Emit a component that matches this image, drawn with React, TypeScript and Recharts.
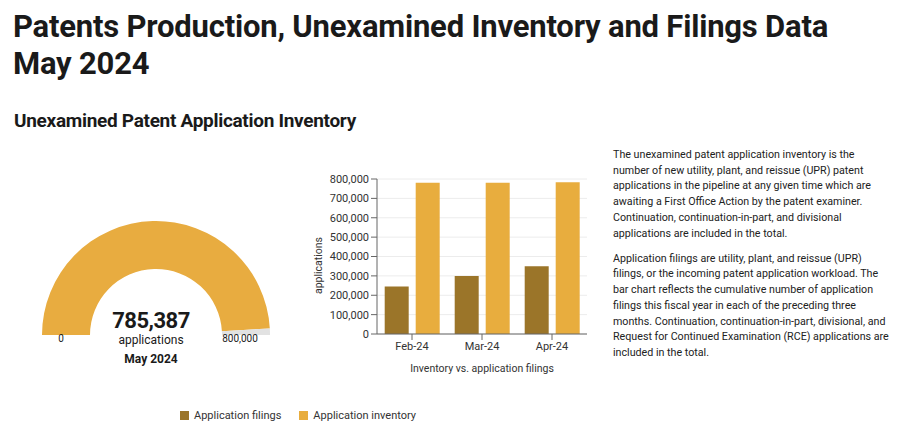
import React from 'react';
import { PieChart, Pie, Cell, BarChart, Bar, XAxis, YAxis, CartesianGrid, Label } from 'recharts';

// bar chart data
const months = ['Feb-24', 'Mar-24', 'Apr-24'];
const filings = [245000, 300000, 350000];
const inventory = [781000, 781000, 783000];
const yTicks = [0, 100000, 200000, 300000, 400000, 500000, 600000, 700000, 800000];

// gauge data
const gaugeValue = 785387;
const gaugeMax = 800000;
const gaugeTicks = [0, 800000];

const series = [
  { key: 'filings', name: 'Application filings', color: '#9B7529' },
  { key: 'inventory', name: 'Application inventory', color: '#E8AD3E' },
];

const para1 = [
  'The unexamined patent application inventory is the',
  'number of new utility, plant, and reissue (UPR) patent',
  'applications in the pipeline at any given time which are',
  'awaiting a First Office Action by the patent examiner.',
  'Continuation, continuation-in-part, and divisional',
  'applications are included in the total.',
];
const para2 = [
  'Application filings are utility, plant, and reissue (UPR)',
  'filings, or the incoming patent application workload. The',
  'bar chart reflects the cumulative number of application',
  'filings this fiscal year in each of the preceding three',
  'months. Continuation, continuation-in-part, divisional, and',
  'Request for Continued Examination (RCE) applications are',
  'included in the total.',
];

const fmt = (v: number) => v.toLocaleString('en-US');

const barData = months.map((m, i) => ({ month: m, filings: filings[i], inventory: inventory[i] }));
const gaugeData = [
  { name: 'inventory', value: gaugeValue },
  { name: 'rest', value: gaugeMax - gaugeValue },
];

const sans = 'Roboto, "Liberation Sans", sans-serif';

const App: React.FC = () => {
  return (
    <div style={{ position: 'fixed', left: 0, top: 0, width: 900, height: 432, background: '#fff', overflow: 'hidden', fontFamily: sans, color: '#1a1a1a' }}>
      <div style={{ position: 'absolute', left: 13, top: 8, fontSize: 31, fontWeight: 700, lineHeight: '37px', letterSpacing: -0.2, whiteSpace: 'nowrap' }}>
        Patents Production, Unexamined Inventory and Filings Data
        <br />
        May 2024
      </div>
      <div style={{ position: 'absolute', left: 14, top: 109, fontSize: 19, fontWeight: 700, letterSpacing: -0.3, whiteSpace: 'nowrap' }}>
        Unexamined Patent Application Inventory
      </div>

      {/* gauge */}
      <div style={{ position: 'absolute', left: 0, top: 100 }}>
        <PieChart width={300} height={240}>
          <Pie
            data={gaugeData}
            dataKey="value"
            cx={151}
            cy={230}
            startAngle={180}
            endAngle={0}
            innerRadius={66}
            outerRadius={114}
            stroke="none"
            isAnimationActive={false}
          >
            <Cell fill="#E8AC40" />
            <Cell fill="#E2E2E2" />
          </Pie>
        </PieChart>
      </div>
      <div style={{ position: 'absolute', left: 41, top: 333, width: 40, textAlign: 'center', fontSize: 10 }}>{fmt(gaugeTicks[0])}</div>
      <div style={{ position: 'absolute', left: 210, top: 333, width: 60, textAlign: 'center', fontSize: 10 }}>{fmt(gaugeTicks[1])}</div>
      <div style={{ position: 'absolute', left: 91, top: 308, width: 120, textAlign: 'center', fontSize: 22, fontWeight: 700, letterSpacing: -0.5 }}>{fmt(gaugeValue)}</div>
      <div style={{ position: 'absolute', left: 91, top: 333, width: 120, textAlign: 'center', fontSize: 12 }}>applications</div>
      <div style={{ position: 'absolute', left: 91, top: 352, width: 120, textAlign: 'center', fontSize: 12, fontWeight: 700 }}>May 2024</div>

      {/* bar chart */}
      <div style={{ position: 'absolute', left: 300, top: 165 }}>
        <BarChart width={300} height={215} data={barData} margin={{ top: 14, right: 13, bottom: 6, left: 0 }} barGap={7} barCategoryGap="11%">
          <CartesianGrid vertical={false} stroke="#ececec" />
          <XAxis dataKey="month" height={40} tick={{ fontSize: 11, fill: '#333' }} axisLine={{ stroke: '#666' }} tickLine={{ stroke: '#666' }}>
            <Label value="Inventory vs. application filings" position="insideBottom" offset={2} style={{ fontSize: 10.5, fill: '#333' }} />
          </XAxis>
          <YAxis
            width={77}
            domain={[0, 800000]}
            ticks={yTicks}
            interval={0}
            tickFormatter={fmt}
            tick={{ fontSize: 11, fill: '#333' }}
            axisLine={{ stroke: '#666' }}
            tickLine={{ stroke: '#666' }}
          >
            <Label value="applications" angle={-90} position="insideLeft" offset={18} dx={0} dy={9} style={{ fontSize: 10.5, fill: '#333', textAnchor: 'middle' }} />
          </YAxis>
          {series.map(s => (
            <Bar key={s.key} dataKey={s.key} name={s.name} fill={s.color} isAnimationActive={false} />
          ))}
        </BarChart>
      </div>

      {/* legend */}
      <div style={{ position: 'absolute', left: 180, top: 409, display: 'flex', fontSize: 11, color: '#333' }}>
        {series.map(s => (
          <div key={s.key} style={{ display: 'flex', alignItems: 'center', marginRight: 18 }}>
            <span style={{ display: 'inline-block', width: 9, height: 9, background: s.color, marginRight: 5 }} />
            {s.name}
          </div>
        ))}
      </div>

      {/* description */}
      <div style={{ position: 'absolute', left: 613, top: 147, fontSize: 10.7, lineHeight: '15.7px', color: '#222', whiteSpace: 'nowrap' }}>
        {para1.map((l, i) => <div key={i}>{l}</div>)}
        <div style={{ height: 9.5 }} />
        {para2.map((l, i) => <div key={i}>{l}</div>)}
      </div>
    </div>
  );
};

export default App;
